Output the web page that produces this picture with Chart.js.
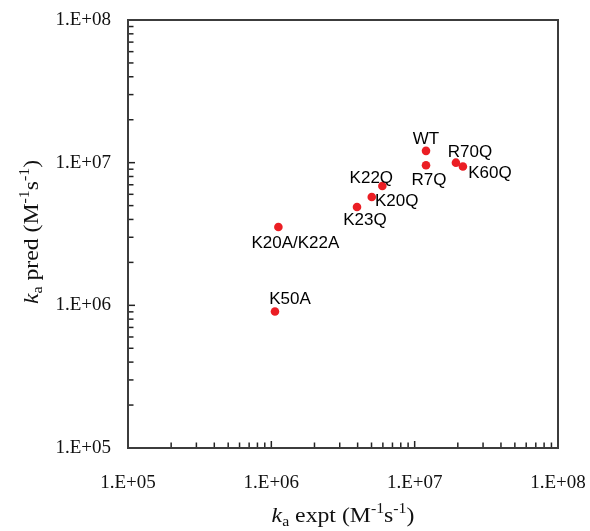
<!DOCTYPE html>
<html><head><meta charset="utf-8">
<script src="https://cdn.jsdelivr.net/npm/chart.js@4/dist/chart.umd.min.js"></script>
<style>html,body{margin:0;padding:0;background:#fff}#wrap{width:590px;height:531px;position:relative}</style>
</head><body><div id="wrap"><canvas id="c" width="590" height="531"></canvas></div>
<script>
const mutants = ['WT','R7Q','R70Q','K60Q','K22Q','K20Q','K23Q','K20A/K22A','K50A'];
const kaExpt = [1.20e7, 1.20e7, 1.94e7, 2.17e7, 5.95e6, 5.02e6, 3.96e6, 1.12e6, 1.06e6];
const kaPred = [1.21e7, 9.6e6, 1.0e7, 9.4e6, 6.86e6, 5.74e6, 4.89e6, 3.54e6, 9.05e5];
const tickValues = [1e5, 1e6, 1e7, 1e8];
const tickLabels = ['1.E+05', '1.E+06', '1.E+07', '1.E+08'];

const SERIF = '"Liberation Serif","Times New Roman",serif';
const SANS = '"Liberation Sans",Arial,sans-serif';

// label offsets (text centre relative to point), styling only
const labelOffsets = {
  'WT': [0, -13], 'R7Q': [3, 14], 'R70Q': [14, -11], 'K60Q': [27, 6],
  'K22Q': [-11, -9], 'K20Q': [25, 3], 'K23Q': [8, 12],
  'K20A/K22A': [17, 15], 'K50A': [15, -13]
};

function drawRich(ctx, segs, x, y, sx) {
  let total = 0;
  segs.forEach(s => { ctx.font = s.font; s.w = ctx.measureText(s.t).width; total += s.w; });
  ctx.save();
  ctx.translate(x, y);
  ctx.scale(sx, 1);
  let cx = -total / 2;
  ctx.textAlign = 'left';
  ctx.textBaseline = 'alphabetic';
  segs.forEach(s => { ctx.font = s.font; ctx.fillText(s.t, cx, (s.dy || 0)); cx += s.w; });
  ctx.restore();
}
function titleSegs(word) {
  return [
    {t: 'k', font: 'italic 21px ' + SERIF},
    {t: 'a', font: '14px ' + SERIF, dy: 4},
    {t: ' ' + word + ' (M', font: '21px ' + SERIF},
    {t: '-1', font: '14px ' + SERIF, dy: -9},
    {t: 's', font: '21px ' + SERIF},
    {t: '-1', font: '14px ' + SERIF, dy: -9},
    {t: ')', font: '21px ' + SERIF}
  ];
}

const decoPlugin = {
  id: 'deco',
  afterDraw(chart) {
    const ctx = chart.ctx, a = chart.chartArea;
    const xs = chart.scales.x, ys = chart.scales.y;
    ctx.save();
    ctx.strokeStyle = '#222';
    ctx.lineWidth = 1.5;
    for (let e = 5; e < 8; e++) {
      for (let m = 1; m <= 9; m++) {
        const v = m * Math.pow(10, e);
        if (v <= 1e5) continue;
        const len = (m === 1) ? 7 : 5.5;
        const px = xs.getPixelForValue(v);
        ctx.beginPath(); ctx.moveTo(px, a.bottom); ctx.lineTo(px, a.bottom - len); ctx.stroke();
        const py = ys.getPixelForValue(v);
        ctx.beginPath(); ctx.moveTo(a.left, py); ctx.lineTo(a.left + len, py); ctx.stroke();
      }
    }
    ctx.strokeStyle = '#3c3c3c';
    ctx.lineWidth = 2;
    ctx.strokeRect(a.left, a.top, a.right - a.left, a.bottom - a.top);
    ctx.fillStyle = '#000';
    ctx.font = '17px ' + SANS;
    ctx.textAlign = 'center';
    ctx.textBaseline = 'middle';
    const meta = chart.getDatasetMeta(0);
    meta.data.forEach((pt, i) => {
      const off = labelOffsets[mutants[i]] || [0, -12];
      ctx.fillText(mutants[i], pt.x + off[0], pt.y + off[1] + 1);
    });
    ctx.fillStyle = '#111';
    drawRich(ctx, titleSegs('expt'), (a.left + a.right) / 2, 522, 1.13);
    ctx.translate(38, 232);
    ctx.rotate(-Math.PI / 2);
    drawRich(ctx, titleSegs('pred'), 0, 0, 1.13);
    ctx.restore();
  }
};

new Chart(document.getElementById('c'), {
  type: 'scatter',
  data: {
    datasets: [{
      data: kaExpt.map((x, i) => ({x: x, y: kaPred[i]})),
      backgroundColor: 'rgb(235,30,36)',
      borderWidth: 0,
      pointRadius: 4.3,
      pointHoverRadius: 4.3
    }]
  },
  options: {
    responsive: false,
    animation: false,
    devicePixelRatio: 1,
    layout: {padding: {top: 20, right: 32, bottom: 0, left: 0}},
    plugins: {legend: {display: false}, tooltip: {enabled: false}},
    scales: {
      x: {
        type: 'logarithmic', position: 'bottom', min: 1e5, max: 1e8,
        grid: {display: false, drawTicks: false},
        border: {display: false},
        afterBuildTicks: s => { s.ticks = tickValues.map(v => ({value: v})); },
        afterFit: s => { s.height = 83; s.paddingLeft = 0; s.paddingRight = 0; },
        ticks: {
          padding: 24, maxRotation: 0, autoSkip: false,
          color: '#111', font: {family: SERIF, size: 19},
          callback: (v, i) => tickLabels[i]
        }
      },
      y: {
        type: 'logarithmic', position: 'left', min: 1e5, max: 1e8,
        grid: {display: false, drawTicks: false},
        border: {display: false},
        afterBuildTicks: s => { s.ticks = tickValues.map(v => ({value: v})); },
        afterFit: s => { s.width = 128; s.paddingTop = 0; s.paddingBottom = 0; },
        ticks: {
          padding: 17, autoSkip: false,
          color: '#111', font: {family: SERIF, size: 19},
          callback: (v, i) => tickLabels[i]
        }
      }
    }
  },
  plugins: [decoPlugin]
});
</script>
</body></html>
